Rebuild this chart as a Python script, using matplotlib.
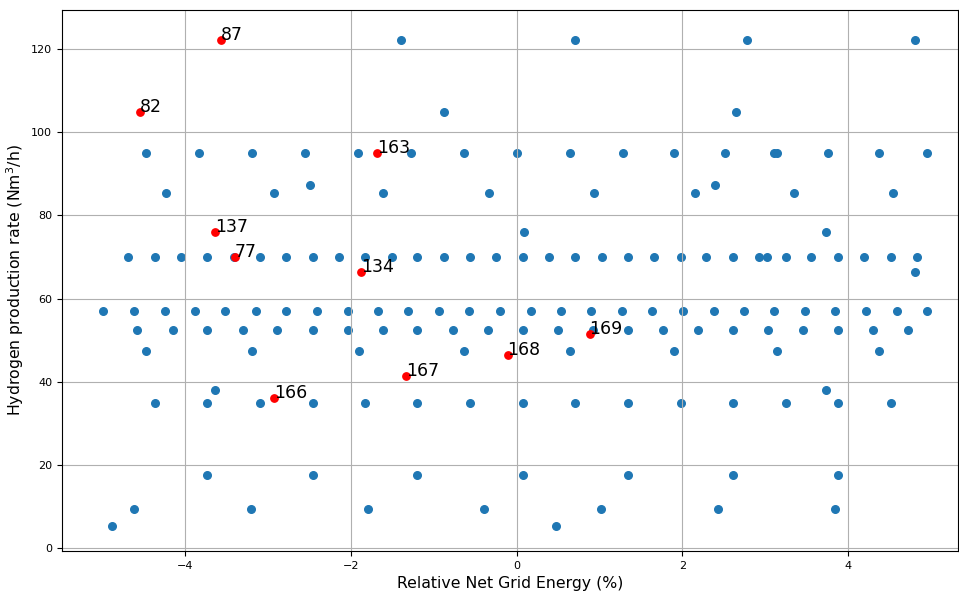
import numpy as np
import matplotlib
matplotlib.use("Agg")
from matplotlib import pyplot as plt

# all runs: relative net grid energy (%) and hydrogen production rate (Nm3/h)
grid_energy = [
    # 122.3
    -1.40, 0.71, 2.78, 4.81,
    # 105
    -0.88, 2.65,
    # 95
    -4.48, -3.84, -3.20, -2.56, -1.92, -1.28, -0.64, 0.00, 0.64, 1.28, 1.90, 2.52,
    3.11, 3.14, 3.76, 4.37, 4.96,
    # 87.3
    -2.50, 2.40,
    # 85.4
    -4.24, -2.93, -1.62, -0.33, 0.93, 2.15, 3.35, 4.55,
    # 76
    0.09, 3.73,
    # 70
    -4.69, -4.37, -4.05, -3.74, -3.41, -3.10, -2.78, -2.46, -2.15, -1.83, -1.51,
    -1.20, -0.88, -0.56, -0.25, 0.08, 0.39, 0.71, 1.03, 1.34, 1.66, 1.98, 2.29,
    2.61, 2.93, 3.02, 3.25, 3.56, 3.88, 4.20, 4.52, 4.83,
    # 66.5
    4.81,
    # 57
    -4.99, -4.62, -4.25, -3.88, -3.52, -3.15, -2.78, -2.41, -2.04, -1.68, -1.31,
    -0.94, -0.57, -0.20, 0.17, 0.53, 0.90, 1.27, 1.64, 2.01, 2.38, 2.74, 3.11,
    3.48, 3.85, 4.22, 4.59, 4.95,
    # 52.5
    -4.58, -4.15, -3.74, -3.31, -2.89, -2.46, -2.04, -1.62, -1.20, -0.77, -0.35,
    0.08, 0.50, 0.92, 1.34, 1.77, 2.19, 2.61, 3.04, 3.46, 3.88, 4.30, 4.73,
    # 47.5
    -4.48, -3.20, -1.91, -0.64, 0.64, 1.90, 3.14, 4.37,
    # 38
    -3.64, 3.73,
    # 35
    -4.37, -3.74, -3.10, -2.46, -1.83, -1.20, -0.56, 0.08, 0.71, 1.34, 1.98,
    2.61, 3.25, 3.88, 4.52,
    # 17.5
    -3.74, -2.46, -1.20, 0.08, 1.34, 2.61, 3.88,
    # 9.5
    -4.62, -3.21, -1.80, -0.39, 1.02, 2.43, 3.84,
    # 5.2
    -4.89, 0.48,
]
h2_rate = (
    [122.3] * 4 + [105.0] * 2 + [95.0] * 17 + [87.3] * 2 + [85.4] * 8
    + [76.0] * 2 + [70.0] * 32 + [66.5] + [57.0] * 28 + [52.5] * 23
    + [47.5] * 8 + [38.0] * 2 + [35.0] * 15 + [17.5] * 7 + [9.5] * 7 + [5.2] * 2
)

# highlighted runs
sel_ids = ["87", "82", "163", "137", "77", "134", "169", "168", "167", "166"]
sel_energy = [-3.57, -4.55, -1.69, -3.64, -3.40, -1.88, 0.88, -0.11, -1.34, -2.93]
sel_rate = [122.3, 104.9, 95.0, 76.1, 70.0, 66.5, 51.6, 46.4, 41.3, 36.1]

fig = plt.figure(figsize=(9.59, 5.95), dpi=100)
ax = fig.add_axes([0.0647, 0.074, 0.9343, 0.909])

ax.scatter(grid_energy, h2_rate, s=30, color="#1f77b4")
ax.scatter(sel_energy, sel_rate, s=28, color="red")
for lab, xx, yy in zip(sel_ids, sel_energy, sel_rate):
    ax.text(xx, yy, lab, fontsize=12.5)

ax.set_xlim(-5.49, 5.33)
ax.set_ylim(-0.7, 129.4)
ax.set_xticks([-4, -2, 0, 2, 4])
ax.set_yticks(np.arange(0, 121, 20))
ax.tick_params(labelsize=8)
ax.grid(True)
ax.set_xlabel("Relative Net Grid Energy (%)", fontsize=11.3)
ax.set_ylabel("Hydrogen production rate (Nm$^3$/h)", fontsize=11.3)

fig.savefig("out.png", dpi=100)
